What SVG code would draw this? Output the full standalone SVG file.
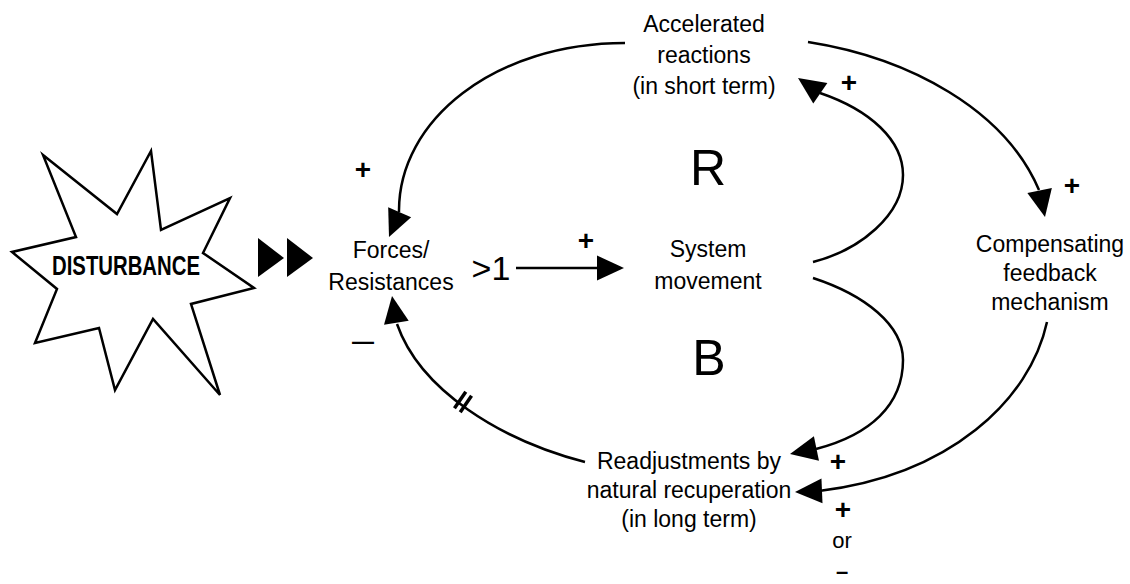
<svg xmlns="http://www.w3.org/2000/svg" xmlns:xlink="http://www.w3.org/1999/xlink" width="1130" height="584" viewBox="0 0 1130 584">
<style>
  .lbl { font-family: "Liberation Sans", Arial, sans-serif; font-size: 23px; fill: #000; text-anchor: middle; }
  .sign { font-family: "Liberation Sans", Arial, sans-serif; font-size: 28px; font-weight: bold; fill: #000; text-anchor: middle; }
  .word { font-family: "Liberation Sans", Arial, sans-serif; font-size: 22px; fill: #000; text-anchor: middle; }
  .big { font-family: "Liberation Sans", Arial, sans-serif; font-size: 50px; fill: #000; text-anchor: middle; }
  .conn { fill: none; stroke: #000; stroke-width: 2.5; }
  .head { fill: #000; stroke: none; }
</style>
<defs>
  <path id="ah" d="M0,0 L-27,-12.5 L-27,12.5 Z"/>
</defs>
<rect width="1130" height="584" fill="#fff"/>

<g id="disturbance">
  <polygon points="43,155 117,214 151,151 161,230 230,198 203,253 254,288 191,304 220,395 153,319 115,390 99,328 35,343 57,289 12,252 76,237" fill="#fff" stroke="#000" stroke-width="2.5" stroke-linejoin="miter"/>
  <text x="126" y="275" font-family="Liberation Sans, Arial, sans-serif" font-size="27" font-weight="bold" text-anchor="middle" textLength="148" lengthAdjust="spacingAndGlyphs">DISTURBANCE</text>
  <polygon points="258,238 284,258 258,277" fill="#000"/>
  <polygon points="287,238 313,258 287,277" fill="#000"/>
</g>

<g id="forces">
  <text class="lbl" x="391" y="258">Forces/</text>
  <text class="lbl" x="391" y="290">Resistances</text>
</g>

<g id="system">
  <text class="lbl" x="708" y="257">System</text>
  <text class="lbl" x="708" y="289">movement</text>
</g>

<g id="accelerated">
  <text class="lbl" x="704" y="32">Accelerated</text>
  <text class="lbl" x="704" y="63">reactions</text>
  <text class="lbl" x="704" y="94">(in short term)</text>
</g>

<g id="compensating">
  <text class="lbl" x="1050" y="252">Compensating</text>
  <text class="lbl" x="1050" y="281">feedback</text>
  <text class="lbl" x="1050" y="310">mechanism</text>
</g>

<g id="readjustments">
  <text class="lbl" x="689" y="469">Readjustments by</text>
  <text class="lbl" x="689" y="498">natural recuperation</text>
  <text class="lbl" x="689" y="527">(in long term)</text>
</g>

<g id="loop-labels">
  <text class="big" x="708" y="185">R</text>
  <text class="big" x="709" y="375">B</text>
</g>

<g id="connectors">
  <!-- Accelerated -> Forces -->
  <path class="conn" d="M625,43 C495,43 398,120 399,212"/>
  <use href="#ah" class="head" transform="translate(389,237) rotate(113.3)"/>
  <!-- Forces -> System -->
  <text x="491" y="280" font-family="Liberation Sans, Arial, sans-serif" font-size="34" text-anchor="middle">&gt;1</text>
  <line class="conn" x1="516" y1="268" x2="600" y2="268"/>
  <use href="#ah" class="head" transform="translate(624,268)"/>
  <!-- Accelerated -> Compensating -->
  <path class="conn" d="M808,42 C910,58 1005,110 1039,190"/>
  <use href="#ah" class="head" transform="translate(1045,217) rotate(78.5)"/>
  <!-- System -> Accelerated -->
  <path class="conn" d="M813,262 C860,250 903,215 903,175 C903,140 870,110 820,93"/>
  <use href="#ah" class="head" transform="translate(798,78) rotate(214.3)"/>
  <!-- System -> Readjustments -->
  <path class="conn" d="M813,278 C865,295 903,325 903,360 C903,405 870,435 816,449"/>
  <use href="#ah" class="head" transform="translate(790,454) rotate(168.3)"/>
  <!-- Compensating -> Readjustments -->
  <path class="conn" d="M1047,322 C1030,400 950,475 819,491"/>
  <use href="#ah" class="head" transform="translate(795,492) rotate(177.6)"/>
  <!-- Readjustments -> Forces (delayed) -->
  <path class="conn" d="M585,462 C500,440 420,390 397,324"/>
  <use href="#ah" class="head" transform="translate(392,296) rotate(260.7)"/>
  <g transform="translate(463,402) rotate(34.5)" stroke="#000" stroke-width="3.5">
    <line x1="-3.5" y1="-10" x2="-3.5" y2="10"/>
    <line x1="3.5" y1="-10" x2="3.5" y2="10"/>
  </g>
</g>

<g id="polarities">
  <text class="sign" x="363" y="179">+</text>
  <text class="sign" x="586" y="250">+</text>
  <text class="sign" x="849" y="92">+</text>
  <text class="sign" x="1072" y="195">+</text>
  <text class="sign" x="838" y="471">+</text>
  <text class="sign" x="843" y="519">+</text>
  <text class="word" x="842" y="548">or</text>
  <text class="word" x="842" y="579" font-weight="bold">–</text>
  <text class="word" x="363" y="349" font-weight="bold">—</text>
</g>
</svg>
